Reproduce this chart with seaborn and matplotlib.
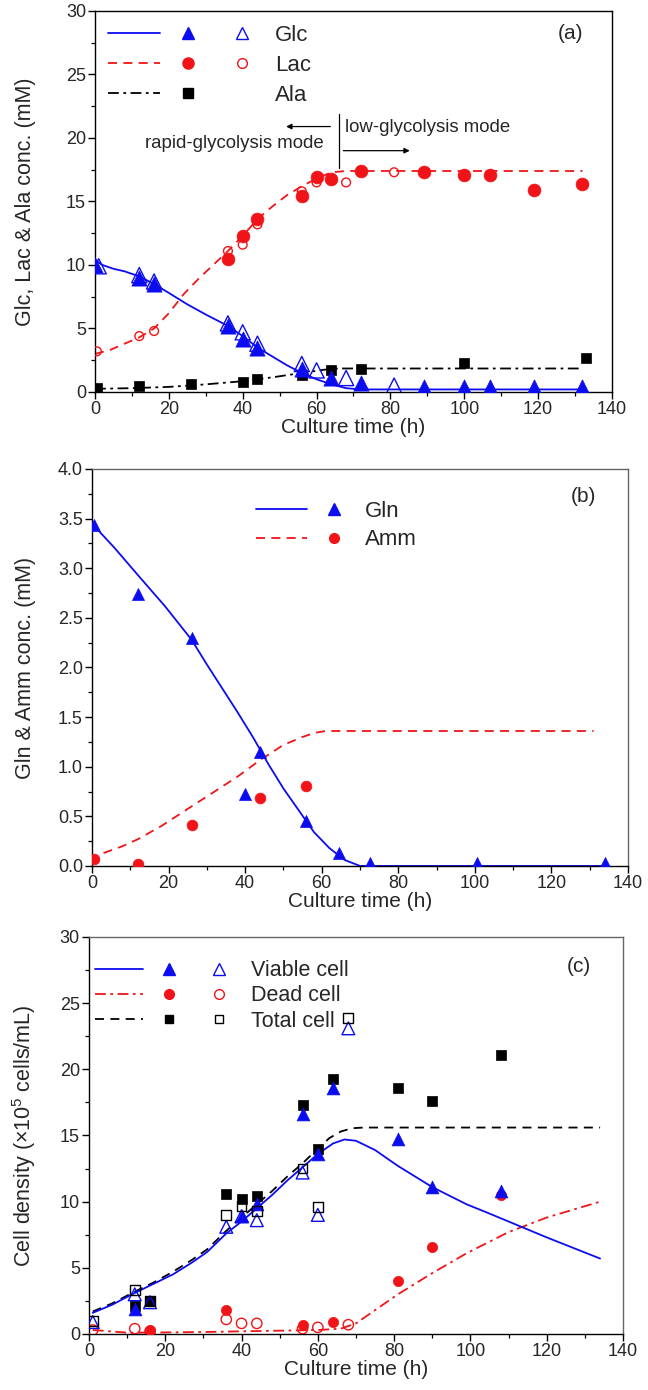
import numpy as np
import pandas as pd
import seaborn as sns
import matplotlib.pyplot as plt
from matplotlib.lines import Line2D
from matplotlib.legend_handler import HandlerTuple
from matplotlib.ticker import MultipleLocator

BLUE = '#0c0cf0'
RED = '#f01418'

# ---- panel (a): glucose / lactate / alanine ----
glc_fit_t = [0, 2, 5, 8, 12, 16, 20, 25, 30, 36, 40, 44, 48, 52, 56, 60, 64, 68, 72, 80, 132]
glc_fit_v = [10.4, 10.0, 9.7, 9.5, 9.1, 8.5, 7.8, 6.9, 6.1, 5.2, 4.4, 3.5, 2.8, 2.1, 1.5, 1.0, 0.6, 0.3, 0.2, 0.2, 0.2]
lac_fit_t = [0, 4, 8, 12, 16, 20, 24, 28, 32, 36, 40, 44, 48, 52, 56, 60, 64, 68, 132]
lac_fit_v = [3.0, 3.3, 3.8, 4.3, 5.0, 6.2, 7.7, 8.9, 10.0, 11.1, 12.3, 13.6, 14.6, 15.5, 16.2, 16.8, 17.3, 17.4, 17.4]
ala_fit_t = [0, 10, 20, 30, 40, 48, 56, 62, 66, 132]
ala_fit_v = [0.25, 0.3, 0.4, 0.6, 0.85, 1.15, 1.5, 1.75, 1.85, 1.85]

glc_t = [0, 12, 16, 36, 40, 44, 56, 64, 72, 89, 100, 107, 119, 132]
glc_v = [10.0, 9.0, 8.5, 5.2, 4.2, 3.5, 1.8, 1.1, 0.7, 0.4, 0.4, 0.4, 0.4, 0.4]
glc2_t = [1, 12, 16, 36, 40, 44, 56, 60, 68, 81]
glc2_v = [9.9, 9.2, 8.7, 5.4, 4.7, 3.8, 2.2, 1.7, 1.1, 0.5]
lac_t = [36, 40, 44, 56, 60, 64, 72, 89, 100, 107, 119, 132]
lac_v = [10.5, 12.3, 13.6, 15.4, 16.9, 16.8, 17.4, 17.3, 17.1, 17.1, 15.9, 16.4]
lac2_t = [0.5, 12, 16, 36, 40, 44, 56, 60, 68, 81]
lac2_v = [3.2, 4.4, 4.8, 11.1, 11.6, 13.2, 15.8, 16.5, 16.5, 17.3]
ala_t = [0.5, 12, 26, 40, 44, 56, 64, 72, 100, 133]
ala_v = [0.3, 0.45, 0.6, 0.8, 1.0, 1.35, 1.7, 1.8, 2.3, 2.7]

# ---- panel (b): glutamine / ammonia ----
gln_fit_t = [0, 6, 12, 19, 26, 30, 34, 38, 42, 46, 50, 54, 58, 62, 66, 70, 135]
gln_fit_v = [3.45, 3.2, 2.93, 2.62, 2.28, 2.03, 1.79, 1.55, 1.3, 1.03, 0.78, 0.56, 0.34, 0.18, 0.06, 0.0, 0.0]
amm_fit_t = [3, 8, 12, 18, 26, 32, 38, 44, 50, 55, 58, 61, 64, 131]
amm_fit_v = [0.13, 0.2, 0.27, 0.4, 0.6, 0.75, 0.9, 1.07, 1.22, 1.3, 1.34, 1.36, 1.36, 1.36]
gln_t = [0.5, 12, 26, 40, 44, 56, 64.5, 72.5, 100.5, 134]
gln_v = [3.44, 2.74, 2.30, 0.73, 1.15, 0.45, 0.13, 0.03, 0.03, 0.03]
amm_t = [0.5, 12, 26, 44, 56]
amm_v = [0.07, 0.02, 0.41, 0.68, 0.81]

# ---- panel (c): cell densities ----
via_fit_t = [1, 6, 12, 17, 22, 27, 31, 36, 40, 44, 48, 52, 56, 60, 64, 67, 70, 75, 81, 90, 99, 105, 110, 115, 120, 127, 134]
via_fit_v = [1.6, 2.2, 3.1, 3.8, 4.5, 5.4, 6.2, 7.6, 8.5, 9.5, 10.5, 11.6, 12.6, 13.6, 14.4, 14.7, 14.6, 13.9, 12.7, 11.1, 9.8, 9.1, 8.5, 7.9, 7.3, 6.5, 5.7]
dead_fit_t = [1, 10, 20, 30, 40, 50, 60, 66, 70, 75, 81, 90, 99, 110, 120, 134]
dead_fit_v = [0.3, 0.1, 0.12, 0.15, 0.2, 0.25, 0.3, 0.4, 0.8, 1.8, 3.0, 4.6, 6.1, 7.7, 8.8, 10.0]
tot_fit_t = [1, 6, 12, 17, 22, 27, 31, 36, 40, 44, 48, 52, 56, 60, 63, 66, 69, 72, 134]
tot_fit_v = [1.7, 2.3, 3.2, 3.9, 4.7, 5.6, 6.4, 7.8, 8.8, 9.8, 10.8, 11.9, 12.9, 14.0, 14.8, 15.3, 15.55, 15.6, 15.6]

via_t = [12, 40, 44, 56, 60, 64, 81, 90, 108]
via_v = [1.9, 8.9, 9.8, 16.6, 13.6, 18.6, 14.7, 11.1, 10.8]
via2_t = [1, 12, 16, 36, 40, 44, 56, 60, 68]
via2_v = [0.9, 3.0, 2.4, 8.1, 8.9, 8.6, 12.2, 9.0, 23.1]
tot_t = [12, 16, 36, 40, 44, 56, 60, 64, 81, 90, 108]
tot_v = [2.1, 2.5, 10.6, 10.2, 10.4, 17.3, 14.0, 19.3, 18.6, 17.6, 21.1]
tot2_t = [1, 12, 16, 36, 40, 44, 56, 60, 68]
tot2_v = [1.0, 3.3, 2.5, 9.0, 9.7, 9.3, 12.5, 9.6, 23.9]
dead_t = [16, 36, 56, 64, 81, 90, 108]
dead_v = [0.3, 1.8, 0.7, 0.9, 4.0, 6.6, 10.5]
dead2_t = [1, 12, 16, 36, 40, 44, 56, 60, 68]
dead2_v = [0.3, 0.4, 0.2, 1.1, 0.8, 0.8, 0.4, 0.5, 0.7]

sns.set_style("ticks")
plt.rcParams['font.family'] = ['Liberation Sans', 'DejaVu Sans']
plt.rcParams['mathtext.fontset'] = 'custom'
plt.rcParams['mathtext.rm'] = 'Liberation Sans'

DASH = (0, (5, 3.5))
DASHDOT = (0, (6, 2.5, 1.5, 2.5))


def fit(ax, t, v, color, ls):
    sns.lineplot(x=t, y=v, ax=ax, color=color, linestyle=ls, lw=1.3, estimator=None, sort=False)


def pts(ax, t, v, marker, color, s, hollow=False):
    if hollow:
        sns.scatterplot(x=t, y=v, ax=ax, marker=marker, s=s, facecolor='none',
                        edgecolor=color, linewidth=1.0, zorder=4)
    else:
        sns.scatterplot(x=t, y=v, ax=ax, marker=marker, s=s, color=color,
                        edgecolor=color, linewidth=0.5, zorder=3)


def style(ax, ymax, ymajor, yminor, spine_col, ylabel, ylab_x):
    ax.set_xlim(0, 140)
    ax.set_ylim(0, ymax)
    ax.xaxis.set_major_locator(MultipleLocator(20))
    ax.xaxis.set_minor_locator(MultipleLocator(10))
    ax.yaxis.set_major_locator(MultipleLocator(ymajor))
    ax.yaxis.set_minor_locator(MultipleLocator(yminor))
    ax.tick_params(which='major', length=5, width=1, labelsize=13, color='black', pad=1.5)
    ax.tick_params(which='minor', length=3, width=0.9, color='black')
    for sp in ax.spines.values():
        sp.set_visible(True)
        sp.set_color(spine_col)
        sp.set_linewidth(1.0)
    ax.spines['left'].set_color('black')
    ax.spines['bottom'].set_color('black')
    ax.set_xlabel('Culture time (h)', fontsize=15, labelpad=0)
    ax.set_ylabel(ylabel, fontsize=15.5)
    ax.yaxis.set_label_coords(ylab_x, 0.5)


def proxy(color, ls='none', marker=None, hollow=False, ms=8):
    if marker is None:
        return Line2D([], [], color=color, linestyle=ls, lw=1.3)
    return Line2D([], [], linestyle='none', marker=marker, markersize=ms,
                  markerfacecolor='none' if hollow else color, markeredgecolor=color,
                  markeredgewidth=1.0)


fig = plt.figure(figsize=(6.48, 13.9), dpi=100)
ax_a = fig.add_axes([0.1466, 0.7180, 0.7978, 0.2741])
ax_b = fig.add_axes([0.1420, 0.3770, 0.8272, 0.2856])
ax_c = fig.add_axes([0.1373, 0.0403, 0.8241, 0.2856])

# (a)
fit(ax_a, glc_fit_t, glc_fit_v, BLUE, '-')
fit(ax_a, lac_fit_t, lac_fit_v, RED, DASH)
fit(ax_a, ala_fit_t, ala_fit_v, 'black', DASHDOT)
pts(ax_a, ala_t, ala_v, 's', 'black', 45)
pts(ax_a, lac_t, lac_v, 'o', RED, 85)
pts(ax_a, lac2_t, lac2_v, 'o', RED, 40, hollow=True)
pts(ax_a, glc_t, glc_v, '^', BLUE, 120)
pts(ax_a, glc2_t, glc2_v, '^', BLUE, 120, hollow=True)
style(ax_a, 30, 5, 2.5, 'black', 'Glc, Lac & Ala conc. (mM)', -0.115)
ax_a.text(0.945, 0.94, '(a)', transform=ax_a.transAxes, fontsize=15, ha='right', va='center')
ax_a.plot([66, 66], [17.6, 21.9], color='black', lw=0.9)
ax_a.annotate('', xy=(51, 20.9), xytext=(64.5, 20.9),
              arrowprops=dict(arrowstyle='-|>', color='black', lw=0.9, mutation_scale=8))
ax_a.annotate('', xy=(86, 19.0), xytext=(66.5, 19.0),
              arrowprops=dict(arrowstyle='-|>', color='black', lw=0.9, mutation_scale=8))
ax_a.text(62, 19.6, 'rapid-glycolysis mode', fontsize=13.4, ha='right', va='center')
ax_a.text(67.8, 20.8, 'low-glycolysis mode', fontsize=13.4, ha='left', va='center')
blank = Line2D([], [], linestyle='none')
ha = [(proxy(BLUE, '-'), proxy(BLUE, marker='^', ms=9), proxy(BLUE, marker='^', hollow=True, ms=9)),
      (proxy(RED, DASH), proxy(RED, marker='o', ms=8), proxy(RED, marker='o', hollow=True, ms=7)),
      (proxy('black', DASHDOT), proxy('black', marker='s', ms=7), blank)]
ax_a.legend(ha, ['Glc', 'Lac', 'Ala'], handler_map={tuple: HandlerTuple(ndivide=None, pad=0.1)},
            loc='upper left', bbox_to_anchor=(-0.009, 1.01), frameon=False, fontsize=16,
            handlelength=7.2, handletextpad=0.3, labelspacing=0.4, borderpad=0.3)

# (b)
fit(ax_b, gln_fit_t, gln_fit_v, BLUE, '-')
fit(ax_b, amm_fit_t, amm_fit_v, RED, DASH)
pts(ax_b, amm_t, amm_v, 'o', RED, 60)
pts(ax_b, gln_t, gln_v, '^', BLUE, 75)
style(ax_b, 4.0, 0.5, 0.25, '#666666', 'Gln & Amm conc. (mM)', -0.104)
ax_b.yaxis.set_major_formatter(plt.FormatStrFormatter('%.1f'))
ax_b.text(0.94, 0.93, '(b)', transform=ax_b.transAxes, fontsize=15, ha='right', va='center')
hb = [(proxy(BLUE, '-'), proxy(BLUE, marker='^', ms=8)),
      (proxy(RED, DASH), proxy(RED, marker='o', ms=7))]
ax_b.legend(hb, ['Gln', 'Amm'], handler_map={tuple: HandlerTuple(ndivide=None, pad=0.1)},
            loc='upper left', bbox_to_anchor=(0.272, 0.965), frameon=False, fontsize=16,
            handlelength=4.7, handletextpad=0.2, labelspacing=0.35, borderpad=0.3)

# (c)
fit(ax_c, dead_fit_t, dead_fit_v, RED, DASHDOT)
fit(ax_c, tot_fit_t, tot_fit_v, 'black', DASH)
fit(ax_c, via_fit_t, via_fit_v, BLUE, '-')
pts(ax_c, dead_t, dead_v, 'o', RED, 55)
pts(ax_c, dead2_t, dead2_v, 'o', RED, 55, hollow=True)
pts(ax_c, tot_t, tot_v, 's', 'black', 50)
pts(ax_c, via_t, via_v, '^', BLUE, 85)
pts(ax_c, via2_t, via2_v, '^', BLUE, 85, hollow=True)
pts(ax_c, tot2_t, tot2_v, 's', 'black', 50, hollow=True)
style(ax_c, 30, 5, 2.5, '#666666', 'Cell density (×10$^5$ cells/mL)', -0.095)
ax_c.text(0.94, 0.925, '(c)', transform=ax_c.transAxes, fontsize=15, ha='right', va='center')
hc = [(proxy(BLUE, '-'), proxy(BLUE, marker='^', ms=8), proxy(BLUE, marker='^', hollow=True, ms=8)),
      (proxy(RED, DASHDOT), proxy(RED, marker='o', ms=7), proxy(RED, marker='o', hollow=True, ms=7)),
      (proxy('black', DASH), proxy('black', marker='s', ms=6), proxy('black', marker='s', hollow=True, ms=6))]
ax_c.legend(hc, ['Viable cell', 'Dead cell', 'Total cell'],
            handler_map={tuple: HandlerTuple(ndivide=None, pad=0.1)},
            loc='upper left', bbox_to_anchor=(-0.021, 0.985), frameon=False, fontsize=15.5,
            handlelength=6.9, handletextpad=0.35, labelspacing=0.2, borderpad=0.3)

fig.savefig('out.png', dpi=100)
